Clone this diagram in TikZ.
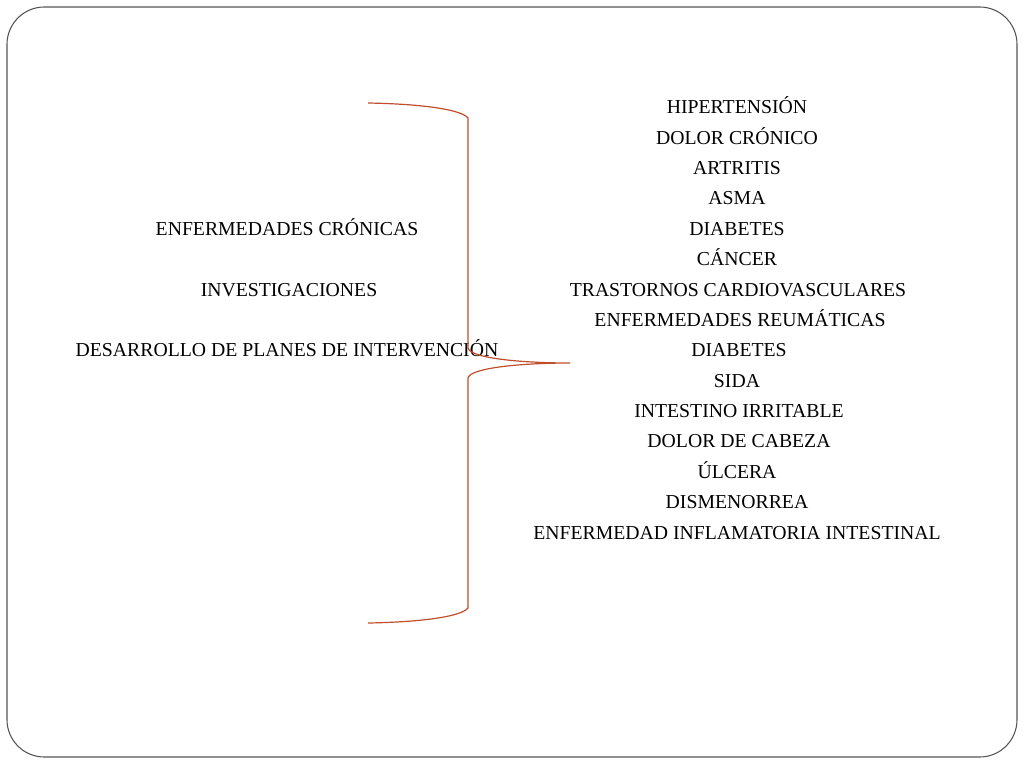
\documentclass[tikz,border=0pt]{standalone}
\usepackage{fontspec}
\setmainfont{Liberation Serif}
\definecolor{bracecol}{RGB}{192,78,42}
\definecolor{framecol}{RGB}{85,85,85}
\begin{document}
\begin{tikzpicture}[x=0.75pt,y=-0.75pt,
  lbl/.style={inner sep=0pt,text height=1.5ex,text depth=0.25ex,anchor=center,yshift=-3pt,font=\fontsize{14.8}{16}\selectfont},
  bracestyle/.style={draw=bracecol,line width=0.9pt},
  framestyle/.style={draw=framecol,line width=0.8pt,rounded corners=28pt}]
\useasboundingbox (0,0) rectangle (1024,768);
\draw[framestyle] (7,7) rectangle (1017,757);
% left column
\node[lbl] (l1) at (287,228) {ENFERMEDADES CRÓNICAS};
\node[lbl] (l2) at (289,289) {INVESTIGACIONES};
\node[lbl] (l3) at (287,349) {DESARROLLO DE PLANES DE INTERVENCIÓN};
% right column
\node[lbl] (r1) at (737,106) {HIPERTENSIÓN};
\node[lbl] (r2) at (737,137) {DOLOR CRÓNICO};
\node[lbl] (r3) at (737,167) {ARTRITIS};
\node[lbl] (r4) at (737,197) {ASMA};
\node[lbl] (r5) at (737,228) {DIABETES};
\node[lbl] (r6) at (737,258) {CÁNCER};
\node[lbl] (r7) at (738,289) {TRASTORNOS CARDIOVASCULARES};
\node[lbl] (r8) at (740,319) {ENFERMEDADES REUMÁTICAS};
\node[lbl] (r9) at (739,349) {DIABETES};
\node[lbl] (r10) at (737,380) {SIDA};
\node[lbl] (r11) at (739,410) {INTESTINO IRRITABLE};
\node[lbl] (r12) at (739,440) {DOLOR DE CABEZA};
\node[lbl] (r13) at (737,471) {ÚLCERA};
\node[lbl] (r14) at (737,501) {DISMENORREA};
\node[lbl] (r15) at (737,532) {ENFERMEDAD INFLAMATORIA INTESTINAL};
% brace
\coordinate (btop) at (368,103);
\coordinate (bbot) at (368,623);
\coordinate (btip) at (570,363);
\draw[bracestyle] (btop) .. controls (425,104) and (462,110) .. (468,118)
  -- (468,348) .. controls (470,358) and (520,363) .. (btip)
  .. controls (520,363) and (470,368) .. (468,378)
  -- (468,608) .. controls (462,616) and (425,622) .. (bbot);
\end{tikzpicture}
\end{document}
